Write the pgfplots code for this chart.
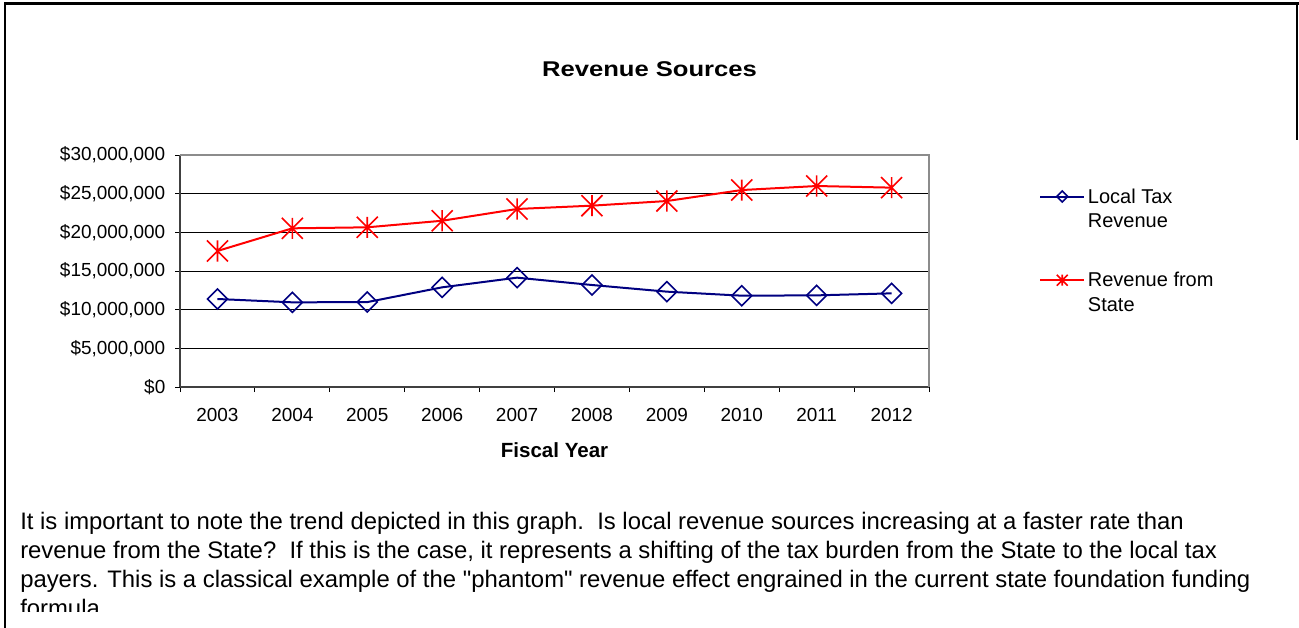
\documentclass[border=0pt]{standalone}
\usepackage{fontspec}
\setmainfont{Liberation Sans}
\usepackage{graphicx}
\usepackage{pgfplots}
\pgfplotsset{compat=1.18}
\usepackage{pgfplotstable}

\definecolor{navyline}{RGB}{0,0,128}
\definecolor{redline}{RGB}{255,0,0}

\pgfdeclareplotmark{xstar}{%
  \pgfpathmoveto{\pgfqpoint{0pt}{\pgfplotmarksize}}%
  \pgfpathlineto{\pgfqpoint{0pt}{-\pgfplotmarksize}}%
  \pgfpathmoveto{\pgfqpoint{-\pgfplotmarksize}{\pgfplotmarksize}}%
  \pgfpathlineto{\pgfqpoint{\pgfplotmarksize}{-\pgfplotmarksize}}%
  \pgfpathmoveto{\pgfqpoint{-\pgfplotmarksize}{-\pgfplotmarksize}}%
  \pgfpathlineto{\pgfqpoint{\pgfplotmarksize}{\pgfplotmarksize}}%
  \pgfusepathqstroke}

\pgfplotstableread{
x local state
0 11380000 17590000
1 10950000 20520000
2 10980000 20650000
3 12890000 21500000
4 14140000 23020000
5 13190000 23450000
6 12330000 24050000
7 11810000 25470000
8 11850000 25990000
9 12110000 25780000
}\revdata

\begin{document}
\begin{tikzpicture}
\begin{scope}[x=0.75pt,y=-0.75pt]
\path[use as bounding box] (0,0) rectangle (1299,628);
\draw[line width=1.9pt] (4,3.5)--(1299,3.5);
\draw[line width=1.5pt] (5,3.5)--(5,628);
\draw[line width=1.5pt] (1297,3.5)--(1297,140);
\node at (649.5,69) {\scalebox{1.2}[1]{\fontsize{16}{19}\selectfont\bfseries Revenue Sources}};
\begin{scope}[every node/.style={anchor=base west, inner sep=0pt, font=\fontsize{17.9}{21}\selectfont}]
\node at (20,529.5) {It is important to note the trend depicted in this graph.\ \ Is local revenue sources increasing at a faster rate than};
\node at (20,558.5) {revenue from the State?\ \ If this is the case, it represents a shifting of the tax burden from the State to the local tax};
\node at (20,587.5) {payers. This is a classical example of the \textquotedbl phantom\textquotedbl\ revenue effect engrained in the current state foundation funding};
\begin{scope}
\clip (0,590) rectangle (1299,611);
\node at (20,616.5) {formula.};
\end{scope}
\end{scope}
\end{scope}

\begin{axis}[
  at={(135pt,-290.25pt)}, anchor=south west,
  scale only axis, width=561.75pt, height=174pt,
  xmin=-0.5, xmax=9.5, ymin=0, ymax=30000000,
  scaled y ticks=false,
  xtick={0,...,9},
  xticklabels={2003,2004,2005,2006,2007,2008,2009,2010,2011,2012},
  major x tick style={draw=none},
  minor xtick={-0.5,0.5,...,9.5},
  minor tick length=3.75pt,
  ytick={0,5000000,10000000,15000000,20000000,25000000,30000000},
  yticklabels={{\$0},{\$5,000,000},{\$10,000,000},{\$15,000,000},{\$20,000,000},{\$25,000,000},{\$30,000,000}},
  major tick length=3.75pt,
  tick align=outside,
  xtick pos=bottom, ytick pos=left,
  tick style={black, line width=0.75pt},
  minor tick style={black, line width=0.75pt},
  ymajorgrids, grid style={black, line width=0.75pt},
  axis lines*=left,
  axis line style={-, draw=black!75, line width=1.5pt},
  /pgf/number format/assume math mode=true,
  tick label style={font=\fontsize{14.2}{17}\selectfont},
  xticklabel style={yshift=-9pt},
  yticklabel style={xshift=-3.75pt},
  xlabel={\bfseries Fiscal Year},
  xlabel style={font=\fontsize{15.4}{18}\selectfont, at={(axis description cs:0.5,-0.2716)}, anchor=center},
  legend style={draw=none, fill=none, at={(1.1415,0.879)}, anchor=north west,
    font=\fontsize{15}{18.4}\selectfont, nodes={align=left}, row sep=28pt},
  legend cell align=left,
  legend image code/.code={%
    \draw[yshift=9.5pt,mark repeat=2,mark phase=2,#1,mark size=4.1pt] plot coordinates {(0pt,0pt) (16.5pt,0pt) (33pt,0pt)};},
  clip=false,
]
\draw[black!45, line width=1.5pt] (rel axis cs:0,1) -- (rel axis cs:1,1) -- (rel axis cs:1,0);
\addplot[navyline, line width=1.5pt, mark=diamond, mark size=7.5pt,
  mark options={xscale=1.333, line width=1.2pt, fill=white, solid}] table[x=x, y=local] {\revdata};
\addlegendentry{Local Tax\\Revenue}
\addplot[redline, line width=1.5pt, mark=xstar, mark size=7.9pt,
  mark options={line width=1.2pt, solid}] table[x=x, y=state] {\revdata};
\addlegendentry{Revenue from\\State}
\end{axis}
\end{tikzpicture}
\end{document}
